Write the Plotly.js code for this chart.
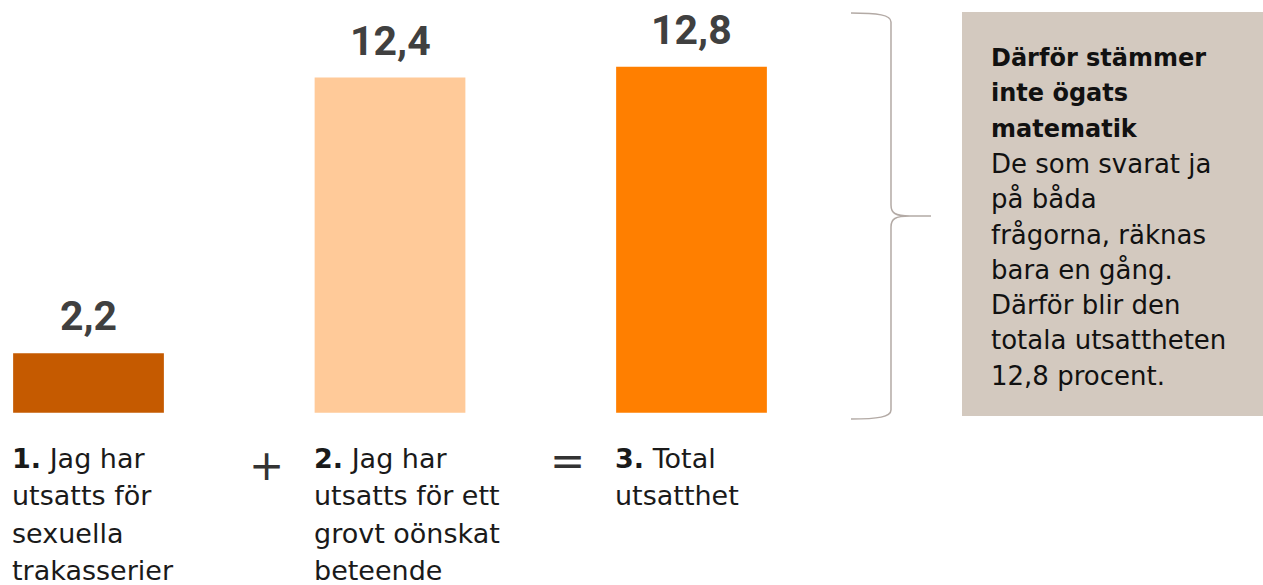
<!DOCTYPE html>
<html>
<head>
<meta charset="utf-8">
<script src="https://cdn.plot.ly/plotly-3.0.1.min.js"></script>
<style>
html,body{margin:0;padding:0;background:#fff;}
#chart{width:1263px;height:585px;}
</style>
</head>
<body>
<div id="chart"></div>
<script>
// ---- data ----
const categories = ['Sexuella trakasserier', 'Grovt oönskat beteende', 'Total utsatthet'];
const values = [2.2, 12.4, 12.8];
const barColors = ['#C55A00', '#FFCA99', '#FF7F00'];
const categoryLabels = [
  '<b>1.</b> Jag har<br>utsatts för<br>sexuella<br>trakasserier',
  '<b>2.</b> Jag har<br>utsatts för ett<br>grovt oönskat<br>beteende',
  '<b>3.</b> Total<br>utsatthet'
];
const operators = ['+', '='];
const boxTitleLines = ['Därför stämmer', 'inte ögats', 'matematik'];
const boxBodyLines = ['De som svarat ja', 'på båda', 'frågorna, räknas', 'bara en gång.', 'Därför blir den', 'totala utsattheten', '12,8 procent.'];

// ---- layout helpers (pixel -> paper) ----
const W = 1263, H = 585;
const px = x => x / W;
const py = y => 1 - y / H;

const FONT = 'DejaVu Sans';
const annotations = [];

// value labels
values.forEach((v, i) => {
  annotations.push({
    xref: 'x', yref: 'y', x: i, y: v,
    text: '<b>' + v.toFixed(1).replace('.', ',') + '</b>',
    showarrow: false, xanchor: 'center', yanchor: 'bottom', yshift: 11,
    font: {family: 'Roboto', size: 41, color: '#404040'}
  });
});

// category labels (left aligned with bar edge)
const catLineTop = 458, catLineStep = 37.5;
categoryLabels.forEach((lab, i) => {
  lab.split('<br>').forEach((line, j) => {
    annotations.push({
      xref: 'x', yref: 'paper', x: i - 0.25, y: py(catLineTop + j * catLineStep),
      text: line, showarrow: false, xanchor: 'left', yanchor: 'middle', align: 'left', xshift: -3,
      font: {family: FONT, size: 27, color: '#1a1a1a'}
    });
  });
});

// operators between categories
operators.forEach((op, i) => {
  annotations.push({
    xref: 'x', yref: 'paper', x: i + 0.59, y: py(i === 0 ? 465 : 460),
    text: op, showarrow: false, xanchor: 'center', yanchor: 'middle',
    font: {family: FONT, size: 42, color: '#333333'}
  });
});

// box text
const boxLineTop = 58, boxLineStep = 35.3;
boxTitleLines.concat(boxBodyLines).forEach((line, j) => {
  const bold = j < boxTitleLines.length;
  annotations.push({
    xref: 'paper', yref: 'paper', x: px(992), y: py(boxLineTop + j * boxLineStep),
    text: bold ? '<b>' + line + '</b>' : line,
    showarrow: false, xanchor: 'left', yanchor: 'middle', align: 'left', xshift: -3,
    font: {family: FONT, size: bold ? 24 : 26, color: '#111111'}
  });
});

// brace path
function P(x, y) { return px(x).toFixed(5) + ',' + py(y).toFixed(5); }
const brace = 'M' + P(851, 13) + ' C' + P(878, 13) + ' ' + P(891, 15) + ' ' + P(891, 22) +
  ' L' + P(891, 205) + ' C' + P(891, 213) + ' ' + P(895, 216) + ' ' + P(910, 216) +
  ' L' + P(931, 216) + ' M' + P(910, 216) + ' C' + P(895, 216) + ' ' + P(891, 219) + ' ' + P(891, 227) +
  ' L' + P(891, 410) + ' C' + P(891, 417) + ' ' + P(878, 419) + ' ' + P(851, 419);

const shapes = [
  {type: 'rect', xref: 'paper', yref: 'paper', x0: px(962), x1: 1, y0: py(416), y1: py(12),
   fillcolor: '#D3C9BF', line: {width: 0}, layer: 'below'},
  {type: 'path', xref: 'paper', yref: 'paper', path: brace,
   line: {color: '#B3AAA5', width: 1.5}}
];

// axis ranges: category centres at 88.5 + 301.5*i px, bar base at 412.7 px
const xr = [-88.5 / 301.5, (W - 88.5) / 301.5];
const unit = 27.03;
const yr = [-(H - 412.7) / unit, 412.7 / unit];

const trace = {
  type: 'bar', x: [0, 1, 2], y: values, width: 0.5,
  marker: {color: barColors}, hoverinfo: 'none', text: categories, textposition: 'none'
};

const layout = {
  width: W, height: H,
  margin: {l: 0, r: 0, t: 0, b: 0, pad: 0},
  paper_bgcolor: '#ffffff', plot_bgcolor: '#ffffff',
  showlegend: false,
  xaxis: {range: xr, visible: false, fixedrange: true},
  yaxis: {range: yr, visible: false, fixedrange: true},
  annotations: annotations,
  shapes: shapes,
  font: {family: FONT}
};

Plotly.newPlot('chart', [trace], layout, {displayModeBar: false, staticPlot: true});
</script>
</body>
</html>
